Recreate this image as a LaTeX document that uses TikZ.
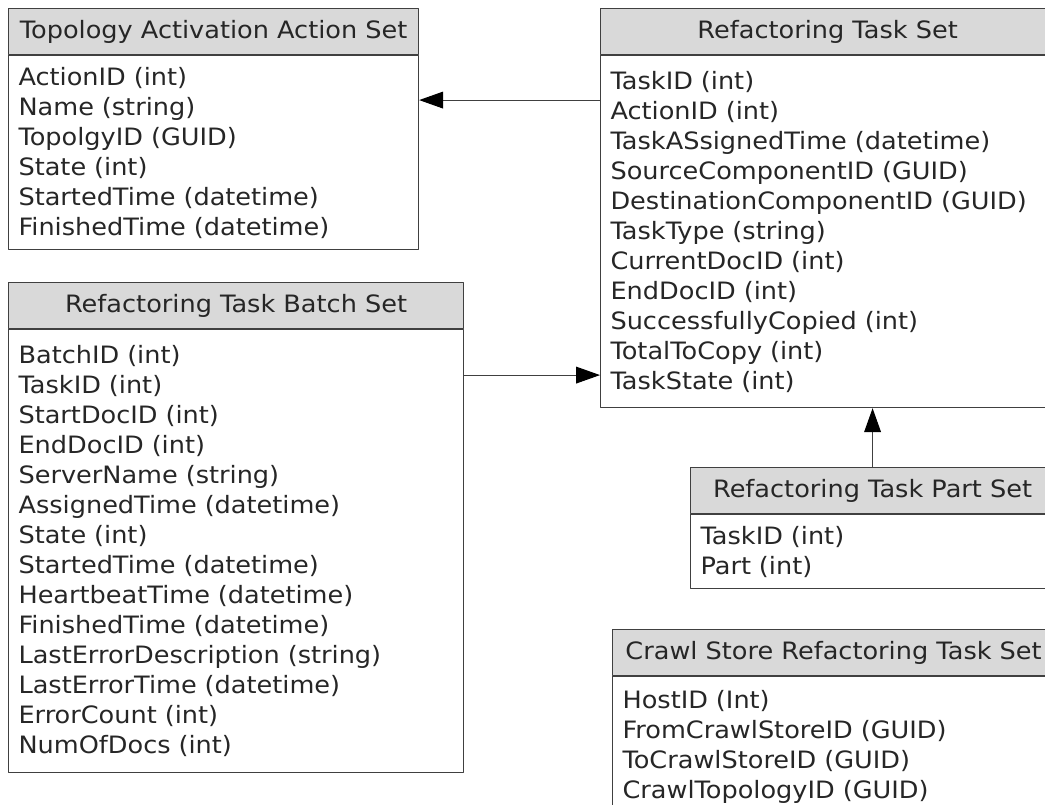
\documentclass[tikz,border=0pt]{standalone}
\usepackage{fontspec}
\setmainfont[FakeStretch=1.07]{DejaVu Sans}
\usetikzlibrary{positioning,arrows.meta}

\begin{document}
\begin{tikzpicture}[x=0.025cm, y=0.025cm, line cap=round, line join=round, font=\fontsize{17}{21.34}\selectfont, >={Triangle[length=0.6cm,width=0.42cm,color=black]}]
	\tikzset{head/.style={draw=black!75, line width=0.75pt, fill=gray!30, text=black!85, anchor=north west, minimum height=1.15cm, inner sep=0pt},
		body/.style={draw=black!75, line width=0.75pt, text=black!85, align=left, inner xsep=0.25cm, inner ysep=0pt}}
	\useasboundingbox (0,0) rectangle (1045,-804);
	\clip (0,0) rectangle (1045,-804);
	% tables
	\node[head, minimum width=10.25cm] (acthead) at (8,-8) {Topology Activation Action Set};
	\node[body, below=0pt of acthead.south west, anchor=north west, text width=9.75cm, minimum height=4.85cm] (actbody) {ActionID (int)\\Name (string)\\TopolgyID (GUID)\\State (int)\\StartedTime (datetime)\\FinishedTime (datetime)};
	\node[head, minimum width=11.35cm] (taskhead) at (600,-8) {Refactoring Task Set};
	\node[body, below=0pt of taskhead.south west, anchor=north west, text width=10.85cm, minimum height=8.8cm] (taskbody) {TaskID (int)\\ActionID (int)\\TaskASsignedTime (datetime)\\SourceComponentID (GUID)\\DestinationComponentID (GUID)\\TaskType (string)\\CurrentDocID (int)\\EndDocID (int)\\SuccessfullyCopied (int)\\TotalToCopy (int)\\TaskState (int)};
	\node[head, minimum width=11.375cm] (batchhead) at (8,-282) {Refactoring Task Batch Set};
	\node[body, below=0pt of batchhead.south west, anchor=north west, text width=10.875cm, minimum height=11.075cm] (batchbody) {BatchID (int)\\TaskID (int)\\StartDocID (int)\\EndDocID (int)\\ServerName (string)\\AssignedTime (datetime)\\State (int)\\StartedTime (datetime)\\HeartbeatTime (datetime)\\FinishedTime (datetime)\\LastErrorDescription (string)\\LastErrorTime (datetime)\\ErrorCount (int)\\NumOfDocs (int)};
	\node[head, minimum width=9.1cm] (parthead) at (690,-467) {Refactoring Task Part Set};
	\node[body, below=0pt of parthead.south west, anchor=north west, text width=8.6cm, minimum height=1.85cm] (partbody) {TaskID (int)\\Part (int)};
	\node[head, minimum width=11.05cm] (crawlhead) at (612,-629) {Crawl Store Refactoring Task Set};
	\node[body, below=0pt of crawlhead.south west, anchor=north west, text width=10.55cm, minimum height=3.5cm] (crawlbody) {HostID (Int)\\FromCrawlStoreID (GUID)\\ToCrawlStoreID (GUID)\\CrawlTopologyID (GUID)};
	% links
	\coordinate (tl) at ([yshift=-1.125cm]taskbody.north west);
	\coordinate (bl) at ([yshift=-1.15cm]batchbody.north east);
	\draw[->, line width=0.75pt, black!75] (tl) -- (tl -| actbody.east);
	\draw[->, line width=0.75pt, black!75] (bl) -- (bl -| taskbody.west);
	\draw[->, line width=0.75pt, black!75] (parthead.north) -- (parthead.north |- taskbody.south);
\end{tikzpicture}
\end{document}
